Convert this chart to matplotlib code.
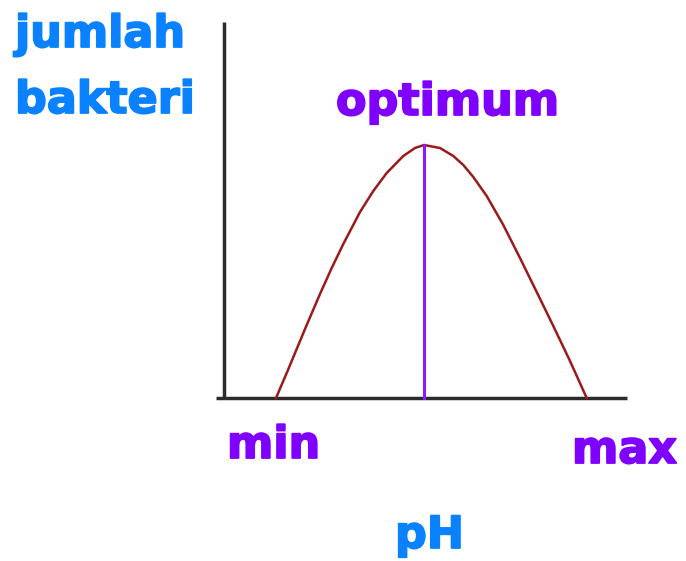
import matplotlib
matplotlib.use("Agg")
import matplotlib.pyplot as plt
import matplotlib.patheffects as pe

# Curve: horizontal position (pH, arbitrary units from axis origin) and bacteria count
ph_pos = [52, 62.7, 72.7, 82.7, 96, 107.7, 119.3, 136, 149.3, 162.7, 179.3, 191, 200,
          216, 229.3, 239.3, 249.3, 262.7, 279.3, 296, 312.7, 329.3, 346, 362.7]
jumlah = [0, 25, 49, 73, 104, 130, 154, 186, 207, 225, 242, 250, 253,
          250, 242, 233, 221, 202, 173, 140, 106, 72, 37, 0]
optimum_ph = 200
optimum_val = 253

labels_color_blue = "#0A82FF"
labels_color_purple = "#8000FF"

W, H = 686, 561
OX, OY = 224, 398  # pixel position of the origin

fig = plt.figure(figsize=(W / 100, H / 100), dpi=100)
ax = fig.add_axes([0, 0, 1, 1])
ax.set_xlim(-OX, W - OX)
ax.set_ylim(OY - H, OY)
ax.axis("off")

def px(x, y):
    return x - OX, OY - y

# axes lines
ax.plot([0, 0], [0, OY - 22], color="#2b2b2b", lw=2.5, solid_capstyle="butt")
ax.plot([216 - OX, 627 - OX], [0, 0], color="#2b2b2b", lw=2.5, solid_capstyle="butt")

# curve
ax.plot(ph_pos, jumlah, color="#9B1B1B", lw=1.8, solid_joinstyle="round")
# optimum line
ax.plot([optimum_ph, optimum_ph], [0, optimum_val], color="#8A1CFF", lw=2.2)

fs = 32
def label(x, y, s, c):
    ax.text(*px(x, y), s, color=c, fontsize=fs, fontweight="bold", family="DejaVu Sans",
            va="baseline", ha="left",
            path_effects=[pe.withStroke(linewidth=1.3, foreground=c)])

label(15, 47, "jumlah", labels_color_blue)
label(15, 113, "bakteri", labels_color_blue)
label(336, 115, "optimum", labels_color_purple)
label(227, 458, "min", labels_color_purple)
label(572, 463, "max", labels_color_purple)
label(395, 548, "pH", labels_color_blue)

fig.savefig("out.png", dpi=100, facecolor="white")
